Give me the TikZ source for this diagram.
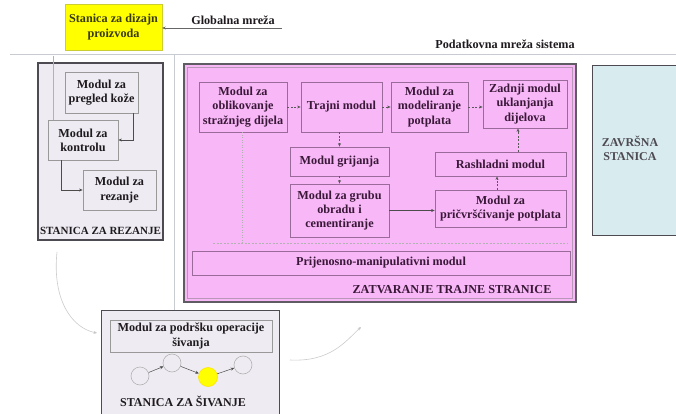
\documentclass[tikz,border=0pt]{standalone}
\usepackage{fontspec}
\setmainfont{Liberation Serif}
\usetikzlibrary{arrows.meta}
\definecolor{yel}{HTML}{FFFF00}
\definecolor{pinkfill}{HTML}{F8B8F8}
\definecolor{pinkline}{HTML}{9A6A9A}
\definecolor{greyfill}{HTML}{EEEBF2}
\definecolor{bluefill}{HTML}{D8ECF0}
\definecolor{frame}{HTML}{4E4A52}
\definecolor{netgrey}{HTML}{C8CCD0}
\definecolor{txt}{HTML}{1E1A1E}
\definecolor{ptxt}{HTML}{3A1838}
\definecolor{ytxt}{HTML}{3A3A12}
\newcommand{\mfont}{\fontsize{12.2}{14.2}\selectfont\bfseries}
\tikzset{
  pinkbox/.style={draw=pinkline, fill=pinkfill, line width=0.8pt, align=center, font=\mfont, text=ptxt, inner sep=1pt},
  greybox/.style={draw=gray!80, fill=greyfill, line width=0.8pt, align=center, font=\mfont, text=txt, inner sep=1pt},
  station/.style={draw=frame, line width=1.4pt},
  flow/.style={draw=gray!70!black, line width=0.5pt, dash pattern=on 2pt off 1.5pt, -{Stealth[length=3.5pt,width=3pt]}},
  solidflow/.style={draw=gray!60!black, line width=0.5pt, -{Stealth[length=3.5pt,width=3pt]}},
  curved/.style={draw=gray!40, line width=0.6pt, -{Stealth[length=3.5pt,width=3pt,fill=gray!70!black]}},
  netline/.style={draw=netgrey, line width=1pt},
  ring/.style={circle, draw=gray!60, line width=0.6pt, minimum size=18pt, inner sep=0pt},
  lbl/.style={font=\mfont, text=txt, inner sep=0pt}
}
\begin{document}
\begin{tikzpicture}[x=1pt,y=-1pt]
\useasboundingbox (0,0) rectangle (676,414);
\fill[white] (0,0) rectangle (676,414);

% global network / design station
\node[draw=yel!60!gray, fill=yel, line width=0.4pt, minimum width=97, minimum height=46, align=center, font=\mfont, text=ytxt, inner sep=1pt] (design) at (113.5,27) {Stanica za dizajn\\proizvoda};
\node[lbl] (glob) at (233,20) {Globalna mreža};
\coordinate (globend) at (282,28);
\draw[solidflow, draw=gray!80!black] (globend) -- (globend -| design.east);

% data network
\coordinate (netL) at (10,55);
\coordinate (netR) at (676,55);
\draw[netline] (netL) -- (netR);
\node[lbl] (podnet) at (505,44) {Podatkovna mreža sistema};
\coordinate (vtop) at (174,55);
\coordinate (vbot) at (174,312);
\draw[draw=netgrey, line width=0.8pt] (vtop) -- (vbot);

% cutting station
\node[station, fill=greyfill, minimum width=125, minimum height=177] (rez) at (100.5,151.5) {};
\coordinate (net1) at (53,56);
\node[greybox, minimum width=73, minimum height=41] (pregled) at (101.5,92.5) {Modul za\\pregled kože};
\node[greybox, minimum width=70, minimum height=40] (kontrola) at (83,140) {Modul za\\kontrolu};
\node[greybox, minimum width=73, minimum height=40] (rezanje) at (119.5,190) {Modul za\\rezanje};
\draw[draw=gray!60, line width=0.5pt] (net1) -- (net1 |- kontrola.north);
\draw[solidflow] ([xshift=-5pt]pregled.south east) |- (kontrola.east);
\draw[solidflow] ([xshift=14pt]kontrola.south west) |- (rezanje.west);
\node[font=\fontsize{11}{13}\selectfont\bfseries, text=txt, inner sep=0pt] (rezlbl) at (100.5,231) {STANICA ZA REZANJE};

% closing station (pink)
\node[station, draw=frame!90, fill=pinkfill, minimum width=392, minimum height=238] (pink) at (380,183) {};
\draw[draw=pinkline!70, line width=0.5pt] ([shift={(4pt,4pt)}]pink.south west) rectangle ([shift={(-4pt,-4pt)}]pink.north east);
\node[pinkbox, minimum width=88, minimum height=50] (oblik) at (243,107) {Modul za\\oblikovanje\\stražnjeg dijela};
\node[pinkbox, minimum width=81, minimum height=50] (trajni) at (341.5,107) {Trajni modul};
\node[pinkbox, minimum width=77, minimum height=50] (model) at (429.5,107) {Modul za\\modeliranje\\potplata};
\node[pinkbox, minimum width=84, minimum height=48] (zadnji) at (525,104) {Zadnji modul\\uklanjanja\\dijelova};
\node[pinkbox, minimum width=99, minimum height=29] (grij) at (339.5,161.5) {Modul grijanja};
\node[pinkbox, minimum width=99, minimum height=53] (grubu) at (339.5,210.5) {Modul za grubu\\obradu i\\cementiranje};
\node[pinkbox, minimum width=131, minimum height=24] (rashl) at (500.5,164) {Rashladni modul};
\node[pinkbox, minimum width=131, minimum height=37] (pricv) at (500.5,208.5) {Modul za\\pričvršćivanje potplata};
\node[pinkbox, minimum width=378, minimum height=24] (prij) at (381,263) {Prijenosno-manipulativni modul};
\node[font=\fontsize{12.2}{14}\selectfont\bfseries, text=ptxt, inner sep=0pt] (pinklbl) at (452,290) {ZATVARANJE TRAJNE STRANICE};

\draw[flow] (oblik) -- (trajni);
\draw[flow] (trajni) -- (model);
\draw[flow] (model.east) -- (zadnji.west |- model.east);
\draw[flow] (grij.north |- trajni.south) -- (grij.north);
\draw[flow] (grij) -- (grubu);
\draw[solidflow] (grubu.east) -- (pricv.west |- grubu.east);
\draw[flow] ([xshift=-3.5pt]pricv.north) -- ([xshift=-3.5pt]rashl.south);
\draw[flow] ([xshift=17.5pt]rashl.north) -- ([xshift=17.5pt]rashl.north |- zadnji.south);
\coordinate (dashL) at (213,243);
\coordinate (dashR) at (568,243);
\draw[draw=gray!60, line width=0.6pt, dash pattern=on 2pt off 1.5pt] (dashL) -- (dashR);
\draw[draw=gray!60, line width=0.6pt, dash pattern=on 1pt off 1.5pt] ([xshift=-1pt]oblik.south) -- ([xshift=-1pt]oblik.south |- dashL);

% final station
\node[station, fill=bluefill, minimum width=90, minimum height=170, anchor=north west] (zavr) at (592,65) {};
\node[font=\fontsize{12}{14}\selectfont\bfseries, text=frame, align=center, inner sep=0pt] (zavrlbl) at (630,148) {ZAVRŠNA\\STANICA};

% sewing station
\node[station, fill=greyfill, minimum width=178, minimum height=110, anchor=north west] (sew) at (101,310) {};
\node[greybox, minimum width=162, minimum height=32] (podr) at (191,336) {Modul za podršku operacije\\šivanja};
\node[ring] (c1) at (140,376) {};
\node[ring] (c2) at (172,363) {};
\node[ring, draw=yel!80!orange, fill=yel, minimum size=19pt] (c3) at (208,377) {};
\node[ring] (c4) at (243,365) {};
\draw[solidflow] (c1) -- (c2);
\draw[solidflow] (c2) -- (c3);
\draw[solidflow] (c3) -- (c4);
\node[font=\fontsize{12}{14}\selectfont\bfseries, text=txt, inner sep=0pt] (sewlbl) at (183,401) {STANICA ZA ŠIVANJE};

% curved flows
\coordinate (cA) at (57,252);
\coordinate (cB) at (97,333);
\draw[curved] (cA) .. controls (52,300) and (72,328) .. (cB);
\coordinate (cC) at (290,360);
\coordinate (cD) at (361,327);
\draw[curved] (cC) .. controls (330,362) and (345,342) .. (cD);
\end{tikzpicture}
\end{document}
